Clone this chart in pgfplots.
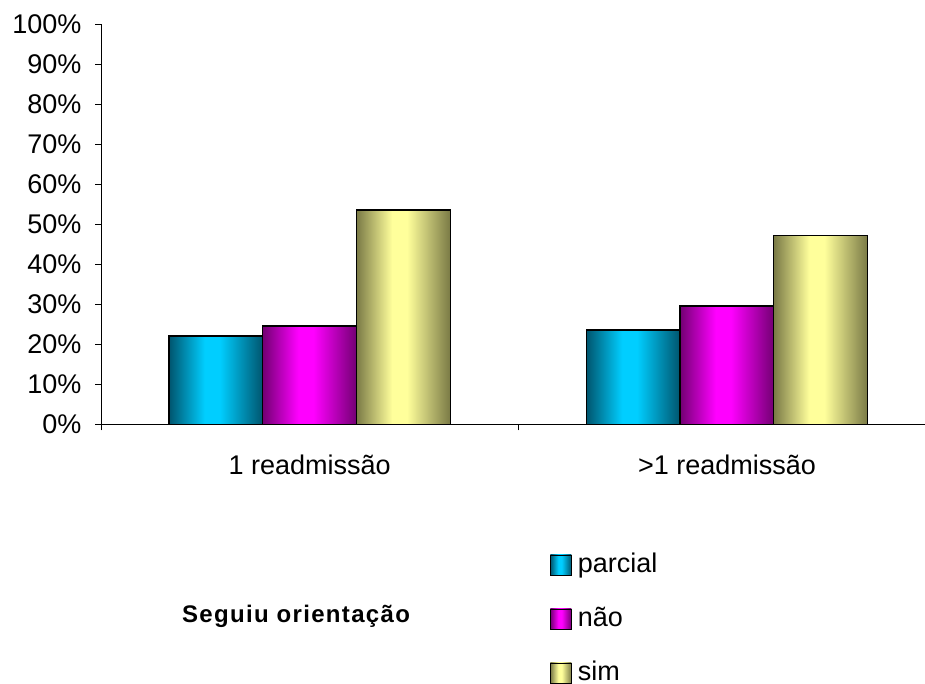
\documentclass[border=0pt]{standalone}
\usepackage{fontspec}
\setmainfont{Liberation Sans}
\usepackage{pgfplots}
\pgfplotsset{compat=1.18}
\definecolor{cyD}{RGB}{0,85,110}
\definecolor{cyM}{RGB}{0,206,255}
\definecolor{mgD}{RGB}{115,0,115}
\definecolor{mgM}{RGB}{255,0,255}
\definecolor{yeD}{RGB}{122,122,70}
\definecolor{yeM}{RGB}{255,255,155}
\pgfdeclarehorizontalshading{cybar}{100bp}{color(0bp)=(cyD); color(25bp)=(cyD); color(44bp)=(cyM); color(52bp)=(cyM); color(75bp)=(cyD); color(100bp)=(cyD)}
\pgfdeclarehorizontalshading{mgbar}{100bp}{color(0bp)=(mgD); color(25bp)=(mgD); color(44bp)=(mgM); color(52bp)=(mgM); color(75bp)=(mgD); color(100bp)=(mgD)}
\pgfdeclarehorizontalshading{yebar}{100bp}{color(0bp)=(yeD); color(25bp)=(yeD); color(44bp)=(yeM); color(52bp)=(yeM); color(75bp)=(yeD); color(100bp)=(yeD)}
\begin{document}
\begin{tikzpicture}
\useasboundingbox (0,0) rectangle (925pt,-683pt);
\clip (0,0) rectangle (925pt,-683pt);
\begin{axis}[
  at={(101pt,-424.3pt)}, anchor=south west,
  scale only axis, width=824pt, height=400pt,
  xmin=-0.5, xmax=1.4746, ymin=0, ymax=100,
  axis lines=left, axis line style={-, black, line width=0.8pt},
  tick align=outside, major tick length=6pt,
  tick style={black, line width=0.8pt},
  ytick={0,10,20,30,40,50,60,70,80,90,100},
  yticklabels={0\%,10\%,20\%,30\%,40\%,50\%,60\%,70\%,80\%,90\%,100\%},
  yticklabel style={font=\fontsize{27}{32}\selectfont, xshift=-10pt},
  xtick={-0.5,0.5}, xticklabels={},
  extra x ticks={0,1},
  extra x tick labels={1 readmissão,{>1 readmissão}},
  extra x tick style={major tick length=0pt},
  xticklabel style={font=\fontsize{27}{32}\selectfont, yshift=-27pt},
  ybar, bar width=0.2245,
  legend style={draw=none, fill=none, inner sep=0pt, outer sep=0pt,
    at={(axis description cs:0.5449,-0.3215)}, anchor=north west,
    font=\fontsize{27}{32}\selectfont,
    nodes={inner sep=0pt, text height=20pt, text depth=6pt},
    row sep=28pt, column sep=6pt},
  legend cell align=left,
  legend image code/.code={\draw[#1, line width=0.8pt] (0pt,-9pt) rectangle (21pt,11pt);},
]
\addplot[bar shift=-0.2245, draw=black, line width=1.3pt, shade, shading=cybar] coordinates {(0,22.1)};
\addplot[bar shift=0, draw=black, line width=1.3pt, shade, shading=mgbar] coordinates {(0,24.6)};
\addplot[bar shift=0.2245, draw=black, line width=1.3pt, shade, shading=yebar] coordinates {(0,53.6)};
\addplot[forget plot, bar shift=-0.2245, draw=black, line width=1.3pt, shade, shading=cybar] coordinates {(1,23.6)};
\addplot[forget plot, bar shift=0, draw=black, line width=1.3pt, shade, shading=mgbar] coordinates {(1,29.6)};
\addplot[forget plot, bar shift=0.2245, draw=black, line width=1.3pt, shade, shading=yebar] coordinates {(1,47.2)};
\legend{parcial,não,sim}
\end{axis}
\node[font=\bfseries\fontsize{24}{28}\selectfont\addfontfeatures{LetterSpace=5.5}, anchor=base, inner sep=0pt] at (296pt,-622pt) {Seguiu orientação};
\end{tikzpicture}
\end{document}
